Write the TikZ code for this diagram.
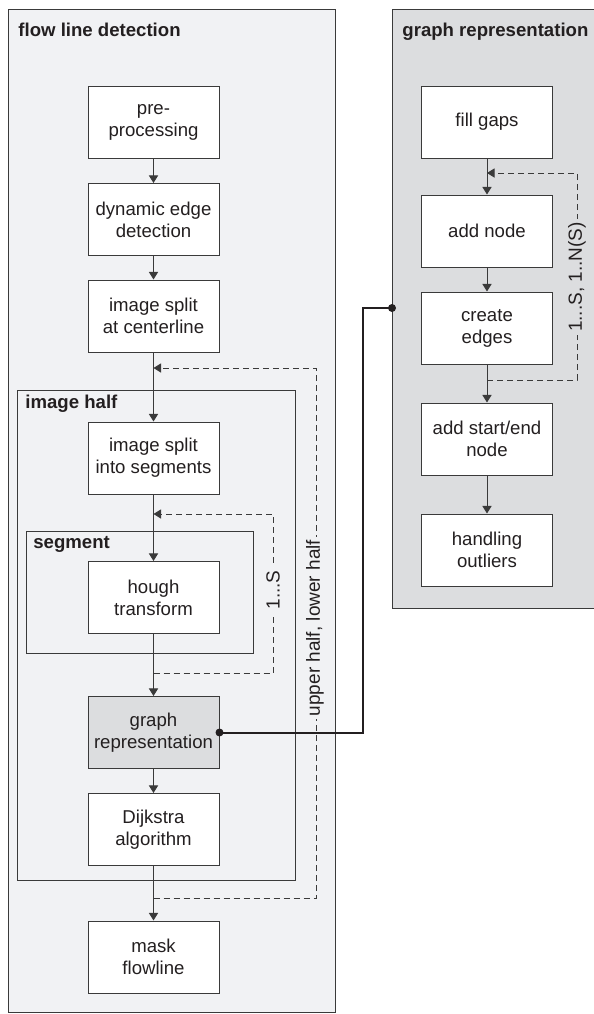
\documentclass[tikz,border=0pt]{standalone}
\usepackage{fontspec}
\setmainfont{Liberation Sans}
\usepackage{tikz}
\usetikzlibrary {positioning,arrows.meta}
\definecolor{panelA}{HTML}{F1F2F4}
\definecolor{panelB}{HTML}{DCDDDF}
\definecolor{lineC}{HTML}{3A3A3A}
\definecolor{textC}{HTML}{231F20}
\tikzset{
	box/.style={draw=lineC, line width=0.5pt, fill=white, text=textC, minimum width=65.5pt, minimum height=36pt, align=center, inner sep=1pt, font=\fontsize{9.3}{11}\selectfont},
	flow/.style={-{Triangle[length=3.8pt,width=4.6pt]}, draw=lineC, line width=0.5pt},
	loopback/.style={flow, dash pattern=on 3pt off 2pt},
	frame/.style={draw=lineC, line width=0.5pt},
	title/.style={font=\bfseries\fontsize{9.3}{10}\selectfont, text=textC, anchor=base west, inner sep=0pt},
	looplabel/.style={rotate=90, text=textC, inner sep=1.5pt, font=\fontsize{9.5}{10}\selectfont},
}
\begin{document}
\begin{tikzpicture}[x=0.5pt, y=-0.5pt]
			\useasboundingbox (0,0) rectangle (594,1014);
			
			\draw[frame, fill=panelA] (8,9) rectangle (335,1012);
			\draw[frame, fill=panelB] (392,9) rectangle (598,608);
			\draw[frame] (17,390) rectangle (295,880);
			\draw[frame] (26,531) rectangle (253,653);
			
			\node[title] (t1) at (18,36) {flow line detection};
			\node[title] (t2) at (402,36) {graph representation};
			\node[title] (t3) at (25,408) {image half};
			\node[title] (t4) at (33,548) {segment};
			
			\node[box] (1) at (153.5,122) {pre-\\processing};
			\node[box] (2) at (153.5,219.5) {dynamic edge\\detection};
			\node[box] (3) at (153.5,316) {image split\\at centerline};
			\node[box] (4) at (153.5,458) {image split\\into segments};
			\node[box] (5) at (153.5,597.5) {hough\\transform};
			\node[box, fill=panelB] (6) at (153.5,732.5) {graph\\representation};
			\node[box] (7) at (153.5,829.5) {Dijkstra\\algorithm};
			\node[box] (8) at (153.5,957) {mask\\flowline};
			
			\node[box] (9) at (487,122) {fill gaps};
			\node[box] (10) at (487,231) {add node};
			\node[box] (11) at (487,328) {create\\edges};
			\node[box] (12) at (487,439) {add start/end\\node};
			\node[box] (13) at (487,550) {handling\\outliers};
			
			\draw[flow] (1) -- (2);
			\draw[flow] (2) -- (3);
			\draw[flow] (3) -- (4);
			\draw[flow] (4) -- (5);
			\draw[flow] (5) -- (6);
			\draw[flow] (6) -- (7);
			\draw[flow] (7) -- (8);
			
			\draw[flow] (9) -- (10);
			\draw[flow] (10) -- (11);
			\draw[flow] (11) -- (12);
			\draw[flow] (12) -- (13);
			
			\coordinate (h1) at (153.5,898);
			\coordinate (h2) at (153.5,368);
			\coordinate (s1) at (153.5,673);
			\coordinate (s2) at (153.5,514);
			\coordinate (n1) at (487,380);
			\coordinate (n2) at (487,173);
			
			\draw[loopback] (h1) -- ++(162.5,0) |- (h2);
			\draw[loopback] (s1) -- ++(119.5,0) |- (s2);
			\draw[loopback] (n1) -- ++(90,0) |- (n2);
			
			\node[looplabel, fill=panelA] (l1) at (315,628) {upper half, lower half};
			\node[looplabel, fill=panelA] (l2) at (273,590) {1...S};
			\node[looplabel, fill=panelB] (l3) at (577,277) {1...S, 1..N(S)};
			
			\coordinate (g) at (392,308);
			\draw[draw=textC, line width=1pt] (6.east) -- ++(143,0) |- (g);
			\fill[textC] (6.east) circle (2pt);
			\fill[textC] (g) circle (2pt);
		\end{tikzpicture}
\end{document}
